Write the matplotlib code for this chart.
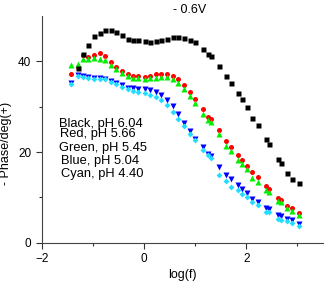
import numpy as np
import matplotlib
matplotlib.use('Agg')
import matplotlib.pyplot as plt

plt.rcParams['font.family'] = ['Liberation Sans', 'DejaVu Sans']

# log(f) grid shared by the measurements
logf = [-1.43, -1.30, -1.20, -1.09, -0.98, -0.87, -0.76, -0.65, -0.54, -0.43,
        -0.32, -0.22, -0.11, 0.01, 0.12, 0.23, 0.34, 0.45, 0.56, 0.67,
        0.78, 0.89, 0.99, 1.15, 1.25, 1.31, 1.46, 1.60, 1.71, 1.83,
        1.91, 2.01, 2.12, 2.22, 2.39, 2.44, 2.61, 2.67, 2.80, 2.90, 3.03]

# black starts one point later
black = [38.6, 41.7, 43.5, 45.5, 46.3, 46.8, 46.8, 46.5, 45.9,
         45.0, 44.8, 44.6, 44.4, 44.3, 44.4, 44.7, 45.0, 45.3, 45.4,
         45.2, 44.8, 44.2, 42.7, 41.5, 41.1, 38.9, 36.7, 35.2, 33.0,
         31.7, 29.9, 27.4, 26.0, 22.9, 21.7, 18.5, 17.6, 15.3, 14.1, 13.1]
red = [37.3, 38.8, 41.3, 41.0, 41.3, 41.9, 41.2, 39.9, 38.7, 37.9,
       37.1, 36.8, 36.7, 36.6, 36.8, 37.1, 37.3, 37.3, 36.8, 36.0,
       34.7, 33.3, 31.8, 29.4, 27.8, 27.3, 24.8, 22.5, 21.2, 19.4,
       18.3, 16.9, 15.5, 14.5, 12.5, 11.8, 9.8, 9.4, 8.2, 7.6, 6.6]
green = [39.1, 39.4, 40.4, 40.6, 40.8, 40.4, 40.2, 39.1, 38.2, 37.4,
         36.7, 36.3, 36.3, 36.2, 36.3, 36.4, 36.5, 36.5, 36.2, 35.3,
         34.0, 32.4, 30.9, 28.4, 27.1, 26.7, 24.0, 21.4, 20.3, 18.3,
         17.4, 16.2, 14.3, 13.4, 11.6, 11.2, 9.2, 8.9, 7.6, 7.0, 6.1]
blue = [35.3, 37.0, 36.7, 36.6, 36.4, 36.4, 36.2, 35.7, 35.2, 34.7,
        34.2, 34.1, 34.0, 33.9, 33.6, 33.2, 32.5, 31.5, 30.2, 28.4,
        26.5, 24.7, 22.9, 21.1, 19.5, 19.1, 16.7, 15.0, 14.1, 12.7,
        11.9, 11.0, 9.6, 9.0, 7.7, 7.4, 6.2, 5.9, 5.2, 5.0, 4.2]
cyan = [35.1, 36.8, 36.5, 36.4, 36.2, 36.2, 36.0, 35.4, 34.9, 34.4,
        33.9, 33.4, 33.2, 33.0, 32.6, 32.1, 31.4, 30.4, 28.9, 27.3,
        25.8, 24.0, 22.7, 20.5, 19.3, 18.7, 15.0, 13.6, 12.3, 11.6,
        10.7, 10.1, 9.1, 8.3, 6.9, 6.7, 5.3, 5.0, 4.8, 4.4, 3.7]

labels = ['Black, pH 6.04', 'Red, pH 5.66', 'Green, pH 5.45',
          'Blue, pH 5.04', 'Cyan, pH 4.40']

fig = plt.figure(figsize=(3.24, 2.84), dpi=100)
ax = fig.add_axes([0.129, 0.145, 0.868, 0.799])

ax.plot(logf, red, 'o', color='#ff0000', ms=3.6, mec='none')
ax.plot(logf, green, '^', color='#00ee00', ms=3.8, mec='none')
ax.plot(logf, blue, 'v', color='#0000ff', ms=3.8, mec='none')
ax.plot(logf, cyan, 'D', color='#22ddff', ms=3.0, mec='none')
ax.plot(logf[1:], black, 's', color='#000000', ms=3.6, mec='none')

ax.set_xlim(-2, 3.5)
ax.set_ylim(0, 50)
ax.set_xticks([-2, 0, 2])
ax.set_xticks([-1, 1, 3], minor=True)
ax.set_yticks([0, 20, 40])
ax.set_yticks([10, 30], minor=True)
ax.tick_params(which='major', length=4, width=0.8, labelsize=8.5, colors='#333333')
ax.tick_params(which='minor', length=2.5, width=0.8, colors='#333333')
for lbl in ax.get_xticklabels() + ax.get_yticklabels():
    lbl.set_color('black')
for s in ['top', 'right']:
    ax.spines[s].set_visible(False)
for s in ['left', 'bottom']:
    ax.spines[s].set_color('#444444')
    ax.spines[s].set_linewidth(0.8)

ax.set_xlabel('log(f)', fontsize=9, labelpad=3)
ax.set_ylabel('- Phase/deg(+)', fontsize=9, labelpad=4)
ax.yaxis.set_label_coords(-0.105, 0.44)
fig.text(190 / 324, 1 - 10 / 284, '- 0.6V', fontsize=9, ha='center', va='center')

# legend text block, positions in figure pixels
text_y = [124, 134.5, 148, 161, 174]
text_x = [59, 60, 59, 61, 61]
for lx, ly, t in zip(text_x, text_y, labels):
    fig.text(lx / 324, 1 - ly / 284, t, fontsize=9.3, ha='left', va='center')

fig.savefig('out.png', dpi=100)
